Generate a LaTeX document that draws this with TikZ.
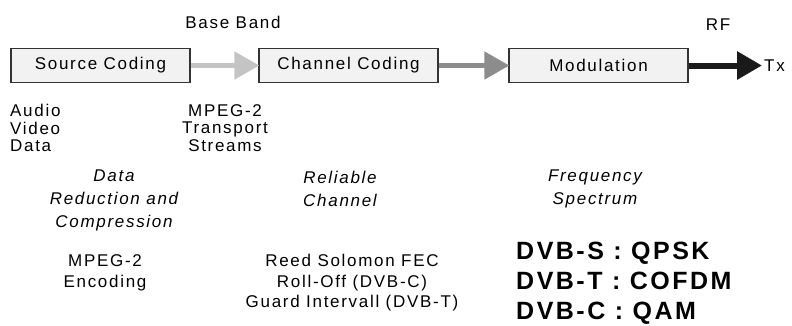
\documentclass[tikz,border=0pt]{standalone}
\usepackage{fontspec}
\setmainfont{Liberation Sans}[LetterSpace=10]
\usetikzlibrary{arrows.meta}
\definecolor{boxfill}{HTML}{F2F2F2}
\definecolor{boxline}{HTML}{333333}
\definecolor{arrowA}{HTML}{C4C4C4}
\definecolor{arrowB}{HTML}{8C8C8C}
\definecolor{arrowC}{HTML}{1A1A1A}
\tikzset{
  blockbox/.style={draw=boxline, line width=1.3pt, fill=boxfill, minimum height=34pt, inner sep=0pt, font=\fontsize{17}{18}\selectfont},
  flow/.style={line width=5pt, -{Triangle[length=25pt,width=27pt]}, shorten >=-1pt},
  txt/.style={inner sep=0pt, font=\fontsize{17}{17.5}\selectfont},
  itxt/.style={inner sep=0pt, align=center, font=\fontsize{17}{23}\selectfont\itshape},
  dvb/.style={inner sep=0pt, align=left, font=\fontsize{25}{30}\selectfont\bfseries}
}
\begin{document}
\begin{tikzpicture}[x=1pt,y=-1pt]
\useasboundingbox (0,0) rectangle (792,325);
\node[blockbox, minimum width=179pt] (src) at (100.5,65.5) {Source Coding};
\node[blockbox, minimum width=179pt] (chn) at (348.5,65.5) {Channel Coding};
\node[blockbox, minimum width=179pt] (mod) at (598.5,65.5) {Modulation};
\coordinate (tx) at (761,65.5);
\draw[flow, draw=arrowA, fill=arrowA] (src.east) -- (chn.west);
\draw[flow, draw=arrowB, fill=arrowB] (chn.east) -- (mod.west);
\draw[flow, draw=arrowC, fill=arrowC, line width=6pt] (mod.east) -- (tx);
\node[txt, anchor=west] (txl) at (764,66) {Tx};
\node[txt] (bb) at (233,22) {Base Band};
\node[txt] (rf) at (718,25) {RF};
\node[txt, anchor=west, align=left] (avd) at (10,128) {Audio\\Video\\Data};
\node[txt, align=center] (ts) at (225,128) {MPEG-2\\Transport\\Streams};
\node[itxt] (drc) at (114,200) {Data\\Reduction and\\Compression};
\node[itxt] (rc) at (340,188.5) {Reliable\\Channel};
\node[itxt] (fs) at (595,188.5) {Frequency\\Spectrum};
\node[txt, align=center, font=\fontsize{17}{21}\selectfont] (enc) at (105,272.5) {MPEG-2\\Encoding};
\node[txt, align=center, font=\fontsize{17}{20.5}\selectfont] (rs) at (352,283) {Reed Solomon FEC\\Roll-Off (DVB-C)\\Guard Intervall (DVB-T)};
\node[dvb, anchor=west] (mods) at (516,283) {DVB-S : QPSK\\DVB-T : COFDM\\DVB-C : QAM};
\end{tikzpicture}
\end{document}
